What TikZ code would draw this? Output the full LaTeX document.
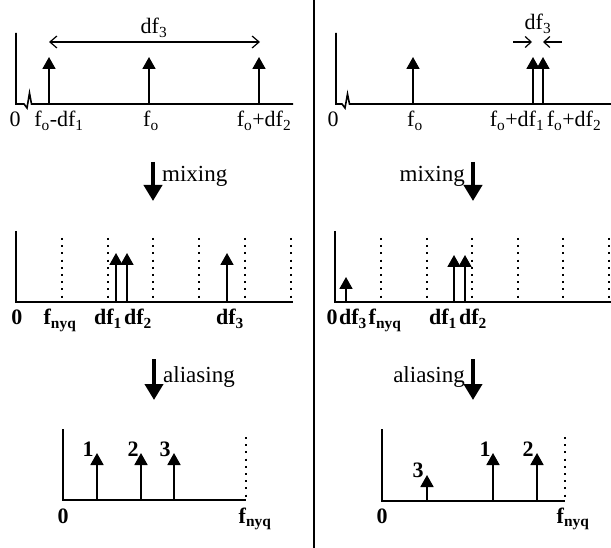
\documentclass[tikz,border=0pt]{standalone}
\usepackage{fontspec}
\setmainfont{Liberation Serif}
\usetikzlibrary{arrows.meta}
\begin{document}
\begin{tikzpicture}[x=1pt,y=-1pt,
  axis/.style={line width=1.6pt,line join=miter},
  spike/.style={line width=1.8pt,-{Triangle[width=13pt,length=12pt]}},
  bigarrow/.style={line width=4pt,-{Triangle[width=18pt,length=16pt]}},
  guide/.style={line width=1.6pt,dash pattern=on 2pt off 5.2pt},
  span/.style={line width=1.2pt},
  lab/.style={anchor=base,inner sep=0pt,font=\fontsize{22}{26}\selectfont},
  blab/.style={anchor=base,inner sep=0pt,font=\fontsize{22}{26}\selectfont\bfseries},
  wlab/.style={anchor=base west,inner sep=0pt,font=\fontsize{23}{27}\selectfont},
  elab/.style={anchor=base east,inner sep=0pt,font=\fontsize{23}{27}\selectfont}]
\useasboundingbox (0,0) rectangle (611,548);
\fill[white] (0,0) rectangle (611,548);

% separator
\coordinate (sepT) at (314,0);
\coordinate (sepB) at (314,548);
\draw[line width=2pt] (sepT) -- (sepB);

% ---------------- top row ----------------
\draw[axis] (16,33) |- (24,104) -- (27,108) -- (29.5,93) -- (31.5,104) -- (293,104);
\draw[axis] (336,33) |- (342,104) -- (345,108) -- (347.5,94) -- (349.5,104) -- (611,104);
\foreach \x [count=\i] in {49,149,259} {
  \coordinate (tlb\i) at (\x,104); \coordinate (tlt\i) at (\x,57);
  \draw[spike] (tlb\i) -- (tlt\i);
}
\foreach \x [count=\i] in {413,533,543} {
  \coordinate (trb\i) at (\x,104); \coordinate (trt\i) at (\x,57);
  \draw[spike] (trb\i) -- (trt\i);
}
% df3 span left
\coordinate (dl) at (49,42); \coordinate (dr) at (260,42);
\draw[span,{Straight Barb[length=7pt,width=12pt]}-{Straight Barb[length=7pt,width=12pt]}] (dl) -- (dr);
\node[lab] (tldf) at (154,34) {df\textsubscript{3}};
% df3 right
\coordinate (ra1) at (513,42); \coordinate (ra2) at (532,42);
\coordinate (rb1) at (562,42); \coordinate (rb2) at (543,42);
\draw[span,-{Straight Barb[length=6pt,width=11pt]}] (ra1) -- (ra2);
\draw[span,-{Straight Barb[length=6pt,width=11pt]}] (rb1) -- (rb2);
\node[lab] (trdf) at (538,30) {df\textsubscript{3}};
% top labels
\node[lab] (tl0) at (15,127) {0};
\node[lab] (tl1) at (59,127) {f\textsubscript{o}-df\textsubscript{1}};
\node[lab] (tl2) at (151,127) {f\textsubscript{o}};
\node[lab] (tl3) at (264,127) {f\textsubscript{o}+df\textsubscript{2}};
\node[lab] (tr0) at (333,127) {0};
\node[lab] (tr1) at (415,127) {f\textsubscript{o}};
\node[lab] (tr2) at (517,127) {f\textsubscript{o}+df\textsubscript{1}};
\node[lab] (tr3) at (574,127) {f\textsubscript{o}+df\textsubscript{2}};

% ---------------- mixing ----------------
\coordinate (mlA) at (153,162); \coordinate (mlB) at (153,201);
\draw[bigarrow] (mlA) -- (mlB);
\node[wlab] (mlt) at (162,182) {mixing};
\coordinate (mrA) at (473,162); \coordinate (mrB) at (473,201);
\draw[bigarrow] (mrA) -- (mrB);
\node[elab] (mrt) at (465,182) {mixing};

% ---------------- middle row ----------------
\foreach \x in {62,108,153,199,245,291} \draw[guide] (\x,238) -- (\x,302);
\foreach \x in {381,427,472,518,563,609} \draw[guide] (\x,238) -- (\x,302);
\draw[axis] (16,231) |- (293,302);
\draw[axis] (335,231) |- (611,302);
\foreach \x/\t [count=\i] in {116/253,127/253,227/253} {
  \coordinate (mlb\i) at (\x,302); \coordinate (mlt\i) at (\x,\t);
  \draw[spike] (mlb\i) -- (mlt\i);
}
\foreach \x/\t [count=\i] in {346/277,454/255,465/255} {
  \coordinate (mrb\i) at (\x,302); \coordinate (mrt\i) at (\x,\t);
  \draw[spike] (mrb\i) -- (mrt\i);
}
\node[blab] (ml0) at (17,325) {0};
\node[blab] (ml1) at (60,325) {f\textsubscript{nyq}};
\node[blab] (ml2) at (108,325) {df\textsubscript{1}};
\node[blab] (ml3) at (138,325) {df\textsubscript{2}};
\node[blab] (ml4) at (230,325) {df\textsubscript{3}};
\node[blab] (mr0) at (332,325) {0};
\node[blab] (mr1) at (353,325) {df\textsubscript{3}};
\node[blab] (mr2) at (385,325) {f\textsubscript{nyq}};
\node[blab] (mr3) at (443,325) {df\textsubscript{1}};
\node[blab] (mr4) at (473,325) {df\textsubscript{2}};

% ---------------- aliasing ----------------
\coordinate (alA) at (154,359); \coordinate (alB) at (154,400);
\draw[bigarrow] (alA) -- (alB);
\node[wlab] (alt) at (163,382) {aliasing};
\coordinate (arA) at (473,359); \coordinate (arB) at (473,400);
\draw[bigarrow] (arA) -- (arB);
\node[elab] (art) at (465,382) {aliasing};

% ---------------- bottom row ----------------
\draw[guide] (246,437) -- (246,500);
\draw[guide] (565,437) -- (565,501);
\draw[axis] (63,429) |- (246,500);
\draw[axis] (382,429) |- (565,501);
\foreach \x/\t [count=\i] in {97/453,141/453,174/453} {
  \coordinate (blb\i) at (\x,500); \coordinate (blt\i) at (\x,\t);
  \draw[spike] (blb\i) -- (blt\i);
}
\foreach \x/\t [count=\i] in {427/475,493/453,537/453} {
  \coordinate (brb\i) at (\x,501); \coordinate (brt\i) at (\x,\t);
  \draw[spike] (brb\i) -- (brt\i);
}
\node[blab] (bln1) at (88,456) {1};
\node[blab] (bln2) at (133,456) {2};
\node[blab] (bln3) at (165,456) {3};
\node[blab] (brn3) at (418,477) {3};
\node[blab] (brn1) at (485,456) {1};
\node[blab] (brn2) at (528,456) {2};
\node[blab] (bl0) at (63,523) {0};
\node[blab] (bl1) at (255,523) {f\textsubscript{nyq}};
\node[blab] (br0) at (382,523) {0};
\node[blab] (br1) at (573,523) {f\textsubscript{nyq}};
\end{tikzpicture}
\end{document}
